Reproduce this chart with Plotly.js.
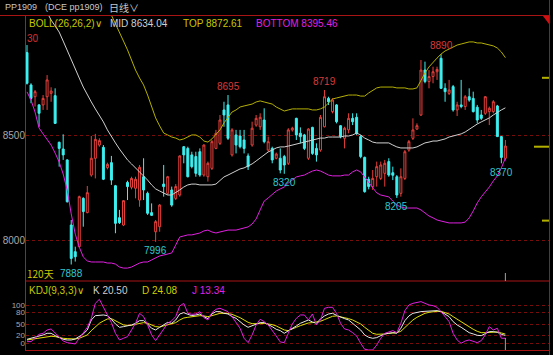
<!DOCTYPE html>
<html><head><meta charset="utf-8">
<script src="https://cdn.plot.ly/plotly-3.0.1.min.js"></script>
<style>html,body{margin:0;padding:0;background:#000;overflow:hidden}#chart{width:553px;height:355px}</style>
</head><body><div id="chart"></div>
<script>
// ---- data ----
const days = Array.from({length:120}, (_, i) => i);
const open = [8897,8743,8687,8648,8648,8687,8703,8692,8470,8438,
 8386,8076,7949,7973,8203,8135,8314,8394,8457,8446,
 8349,8373,8263,8111,8076,8279,8256,8251,8195,8306,
 8227,8135,8044,8068,8271,8227,8243,8203,8219,8449,
 8441,8410,8402,8425,8314,8306,8346,8441,8465,8624,
 8648,8410,8505,8500,8481,8405,8457,8552,8544,8576,
 8433,8441,8394,8394,8402,8370,8529,8584,8513,8505,
 8394,8541,8441,8433,8544,8679,8616,8648,8549,8489,
 8529,8584,8589,8497,8398,8294,8259,8306,8298,8322,
 8378,8325,8306,8227,8298,8433,8489,8533,8600,8814,
 8759,8783,8806,8870,8727,8703,8735,8624,8648,8640,
 8687,8679,8637,8600,8608,8616,8616,8643,8497,8394];
const high = [8933,8751,8719,8652,8695,8790,8732,8727,8473,8508,
 8389,8100,7973,8216,8208,8262,8500,8510,8489,8457,
 8373,8405,8267,8148,8195,8287,8306,8306,8362,8394,
 8235,8179,8100,8176,8362,8310,8259,8271,8408,8452,
 8449,8425,8425,8441,8460,8378,8481,8529,8600,8663,
 8695,8537,8529,8529,8529,8417,8568,8600,8608,8632,
 8497,8449,8421,8441,8410,8537,8544,8587,8541,8510,
 8537,8544,8465,8600,8719,8687,8679,8652,8552,8544,
 8608,8608,8608,8505,8402,8306,8338,8378,8378,8386,
 8394,8354,8314,8346,8433,8481,8584,8560,8862,8854,
 8814,8830,8830,8890,8751,8767,8743,8663,8767,8695,
 8727,8711,8648,8624,8690,8640,8671,8648,8500,8481];
const low = [8745,8656,8640,8544,8624,8624,8663,8557,8354,8386,
 8183,7888,7902,7970,8068,8132,8306,8298,8449,8290,
 8341,8267,8037,8081,8071,8195,8246,8203,8163,8195,
 8124,8119,7996,8044,8211,8219,8163,8195,8211,8370,
 8303,8346,8306,8306,8306,8283,8338,8437,8457,8544,
 8481,8402,8417,8441,8417,8338,8449,8544,8529,8465,
 8425,8370,8389,8322,8320,8362,8521,8481,8465,8433,
 8386,8410,8378,8425,8541,8648,8608,8560,8489,8441,
 8513,8552,8505,8394,8230,8246,8243,8259,8290,8259,
 8306,8290,8205,8211,8290,8425,8481,8529,8595,8751,
 8727,8751,8767,8724,8663,8695,8616,8595,8632,8624,
 8663,8612,8560,8576,8600,8552,8608,8497,8370,8383];
const close = [8751,8679,8711,8608,8679,8767,8714,8560,8441,8410,
 8187,7917,7925,8211,8140,8230,8394,8484,8478,8294,
 8365,8290,8084,8087,8192,8259,8298,8294,8351,8243,
 8132,8122,8092,8171,8259,8306,8171,8259,8405,8410,
 8306,8354,8322,8314,8457,8370,8473,8513,8576,8600,
 8489,8529,8457,8449,8441,8354,8537,8584,8589,8473,
 8473,8386,8414,8338,8362,8529,8537,8505,8497,8441,
 8533,8417,8410,8589,8687,8663,8671,8568,8497,8537,
 8584,8568,8513,8402,8235,8259,8298,8354,8362,8370,
 8314,8313,8219,8306,8425,8473,8529,8549,8814,8759,
 8783,8806,8817,8727,8711,8719,8624,8648,8640,8687,
 8671,8616,8576,8584,8687,8632,8663,8497,8398,8452];
const bollMid = [9290,9252,9210,9167,9124,9086,9052,9024,8995,8952,
 8910,8867,8824,8776,8733,8695,8662,8629,8600,8567,
 8529,8495,8467,8438,8410,8386,8367,8348,8333,8314,
 8290,8267,8248,8238,8229,8219,8219,8229,8243,8257,
 8267,8271,8271,8267,8267,8267,8267,8271,8286,8305,
 8314,8324,8333,8343,8348,8357,8367,8381,8395,8410,
 8424,8433,8443,8448,8448,8452,8457,8462,8467,8471,
 8476,8481,8486,8490,8490,8495,8495,8495,8495,8500,
 8500,8505,8514,8505,8490,8481,8471,8467,8467,8467,
 8467,8457,8448,8443,8443,8443,8443,8448,8457,8467,
 8471,8476,8476,8481,8486,8495,8500,8505,8510,8519,
 8533,8543,8557,8567,8576,8586,8600,8614,8624,8634];
const bollTop = [9600,9590,9580,9570,9560,9545,9530,9515,9500,9480,
 9460,9440,9410,9380,9350,9320,9280,9240,9200,9160,
 9119,9076,9038,8995,8952,8910,8857,8814,8776,8743,
 8695,8643,8586,8548,8514,8505,8495,8490,8481,8486,
 8495,8505,8505,8495,8476,8471,8486,8505,8529,8562,
 8590,8614,8624,8638,8643,8648,8652,8662,8667,8662,
 8657,8652,8638,8629,8619,8624,8629,8629,8629,8629,
 8629,8624,8624,8629,8638,8657,8676,8681,8686,8690,
 8695,8695,8695,8690,8690,8705,8719,8729,8733,8733,
 8733,8733,8729,8729,8729,8724,8724,8729,8767,8800,
 8829,8852,8871,8890,8905,8914,8924,8933,8938,8943,
 8948,8948,8943,8943,8938,8933,8929,8919,8900,8873];
const bollBottom = [8710,8671,8614,8538,8510,8486,8457,8419,8376,8319,
 8243,8129,8033,7971,7924,7905,7900,7900,7900,7900,
 7895,7895,7890,7876,7871,7871,7876,7886,7895,7900,
 7900,7910,7919,7929,7933,7938,7943,7981,8019,8024,
 8029,8029,8033,8038,8048,8052,8043,8038,8043,8048,
 8052,8052,8052,8057,8062,8067,8081,8105,8148,8190,
 8205,8224,8238,8248,8257,8276,8290,8305,8310,8314,
 8324,8333,8338,8333,8324,8314,8310,8310,8310,8314,
 8314,8329,8338,8329,8305,8276,8252,8229,8219,8214,
 8210,8190,8171,8162,8157,8157,8157,8157,8148,8133,
 8119,8110,8100,8095,8090,8086,8086,8086,8086,8090,
 8110,8143,8181,8210,8233,8257,8286,8310,8348,8395];
const kdjK = [10.4,13.1,17.4,19.1,21.8,26.1,26.1,20.0,14.8,10.4,
 8.7,8.7,11.3,17.4,24.4,34.8,60.9,72.2,74.0,74.0,
 72.2,62.7,50.5,41.8,43.5,45.3,47.9,52.2,59.2,59.2,
 50.5,39.2,34.8,41.8,47.9,54.8,52.2,60.9,76.6,80.1,
 75.7,72.2,74.0,76.6,69.6,64.4,76.6,82.7,82.7,78.3,
 76.6,69.6,65.3,56.6,47.9,41.8,45.3,50.5,54.0,54.0,
 49.6,43.5,36.6,33.1,26.1,32.2,37.4,45.3,52.2,56.6,
 60.9,55.7,52.2,63.5,71.4,76.6,78.3,73.1,67.9,64.4,
 60.9,52.2,45.3,34.8,21.8,15.7,13.1,14.8,20.0,24.4,
 26.1,27.8,26.1,39.2,59.2,71.4,78.3,80.9,82.7,83.5,
 84.4,85.3,85.3,82.7,76.6,69.6,56.6,47.9,41.8,34.8,
 27.8,24.4,20.9,20.0,26.1,30.5,30.5,28.7,23.5,20.5];
const kdjD = [8.7,10.4,12.2,13.9,15.7,17.4,18.3,17.4,14.8,13.1,
 12.2,11.3,11.3,13.1,16.5,21.8,33.1,43.5,52.2,58.3,
 63.5,64.4,59.2,52.2,47.9,47.0,47.0,49.6,52.2,54.0,
 52.2,47.9,43.5,42.6,45.3,48.7,51.3,54.0,60.9,66.1,
 67.9,69.6,70.5,72.2,71.4,69.6,72.2,75.7,78.3,78.3,
 78.3,75.7,72.2,67.0,60.9,54.8,51.3,50.5,51.3,52.2,
 51.3,48.7,45.3,39.2,34.8,33.1,36.6,41.8,46.1,50.5,
 53.1,54.0,54.8,57.4,61.8,67.0,70.5,71.4,69.6,67.0,
 64.4,60.9,56.6,50.5,41.8,33.1,26.1,23.5,23.5,24.4,
 26.1,27.0,27.8,31.3,41.8,52.2,60.9,67.9,74.0,78.3,
 80.9,82.7,83.5,83.5,80.9,76.6,69.6,62.7,55.7,48.7,
 41.8,36.6,31.3,27.8,27.8,28.7,29.6,29.6,27.0,24.08];
const kdjJ = [4.4,4.4,13.1,23.5,26.1,34.8,37.4,26.1,15.7,6.1,
 1.7,0,-1.7,13.1,27.8,41.8,65.3,104.4,114.9,95.7,
 74.0,54.0,26.1,8.7,13.1,17.4,34.8,52.2,78.3,69.6,
 47.9,21.8,7.0,21.8,39.2,52.2,59.2,69.6,97.5,104.4,
 78.3,75.7,76.6,82.7,67.0,60.9,80.1,88.8,91.4,87.0,
 82.7,69.6,54.0,39.2,13.1,1.7,21.8,47.9,62.7,56.6,
 47.9,34.8,19.1,3.5,1.7,26.1,50.5,65.3,74.0,74.0,
 60.9,76.6,47.9,60.9,91.4,94.0,94.0,78.3,52.2,37.4,
 34.8,27.8,19.1,0,-15.7,-17.4,-17.4,-4.4,13.1,26.1,
 30.5,33.1,27.8,52.2,85.3,100.1,104.4,107.0,108.8,104.4,
 100.1,98.3,94.0,82.7,69.6,56.6,26.1,8.7,0,6.1,
 8.7,4.4,1.7,7.0,21.8,43.5,34.8,39.2,13.1,13.34];
const priceTicks = [8000, 8500];
const kdjTicks = [0, 20, 50, 80, 100];
const highMarks = [50, 74, 103];
const lowMarks = [11, 32, 64, 92, 118];
const refPrices = [8777, 8449, 8097];
const headerTexts = ['PP1909', '(DCE pp1909)', '日线∨'];
const bollTexts = ['BOLL(26,26,2)∨', 'MID 8634.04', 'TOP 8872.61', 'BOTTOM 8395.46'];
const kdjTexts = ['KDJ(9,3,3)∨', 'K 20.50', 'D 24.08', 'J 13.34'];

// ---- layout helpers (pixel -> paper) ----
const L = 26, R = 549, T = 16, B = 351, SEP = 281;
const PX = p => (p - L) / (R - L);
const PY = p => (B - p) / (B - T);
const FONT = 'Liberation Sans, Arial, sans-serif';
const CJK = 'Noto Sans CJK SC, sans-serif';
const RED = '#e8403c', CYAN = '#3ef0f0', FRAME = '#a81414', GRID = '#7a0c0c';

const traces = [
  {type:'candlestick', x:days, open:open, high:high, low:low, close:close,
   xaxis:'x', yaxis:'y', whiskerwidth:0, hoverinfo:'skip',
   increasing:{line:{color:RED, width:1}, fillcolor:'#000000'},
   decreasing:{line:{color:CYAN, width:1}, fillcolor:CYAN}},
  {type:'scatter', mode:'lines', x:days, y:bollMid, line:{color:'#d0d0d0', width:1}, hoverinfo:'skip'},
  {type:'scatter', mode:'lines', x:days, y:bollTop, line:{color:'#b4b000', width:1}, hoverinfo:'skip'},
  {type:'scatter', mode:'lines', x:days, y:bollBottom, line:{color:'#e020e0', width:1}, hoverinfo:'skip'},
  {type:'scatter', mode:'lines', x:days, y:kdjD, yaxis:'y2', line:{color:'#e0e000', width:1}, hoverinfo:'skip'},
  {type:'scatter', mode:'lines', x:days, y:kdjK, yaxis:'y2', line:{color:'#e8e8e8', width:1}, hoverinfo:'skip'},
  {type:'scatter', mode:'lines', x:days, y:kdjJ, yaxis:'y2', line:{color:'#e020e0', width:1}, hoverinfo:'skip'}
];

const ann = [];
function txt(s, px, py, color, size, fam){
  ann.push({text:s, xref:'paper', yref:'paper', x:PX(px), y:PY(py), xanchor:'left', yanchor:'middle',
    showarrow:false, borderpad:0, font:{family:fam||FONT, size:size||10, color:color}});
}
txt(headerTexts[0], 4, 7, '#c8c8c8', 9);
txt(headerTexts[1], 44, 7, '#c8c8c8', 9);
txt(headerTexts[2], 108, 7, '#c8c8c8', 10, CJK);
txt(bollTexts[0], 28, 23, '#c8c800', 10);
txt(bollTexts[1], 109, 23, '#d0d0d0', 10);
txt(bollTexts[2], 182, 23, '#c8c800', 10);
txt(bollTexts[3], 255, 23, '#e020e0', 10);
txt('30', 26, 38, '#d83030', 10);
txt('120天', 26, 273, '#c8c800', 10, CJK);
txt(kdjTexts[0], 28, 290, '#c8c800', 10);
txt(kdjTexts[1], 92, 290, '#d0d0d0', 10);
txt(kdjTexts[2], 141, 290, '#d0d000', 10);
txt(kdjTexts[3], 191, 290, '#e020e0', 10);

highMarks.forEach(i => ann.push({text:String(high[i]), xref:'x', yref:'y', x:i, y:high[i], yshift:9,
  showarrow:false, xanchor:'center', yanchor:'middle', font:{family:FONT, size:10, color:'#d83a3a'}}));
lowMarks.forEach(i => ann.push({text:String(low[i]), xref:'x', yref:'y', x:i, y:low[i], yshift:-9,
  showarrow:false, xanchor:'center', yanchor:'middle', font:{family:FONT, size:10, color:'#30c8d0'}}));

const shapes = [
  {type:'line', xref:'paper', yref:'paper', x0:PX(0), x1:PX(549.5), y0:PY(15.5), y1:PY(15.5), line:{color:FRAME, width:1}},
  {type:'line', xref:'paper', yref:'paper', x0:PX(549.5), x1:PX(549.5), y0:PY(0), y1:PY(355), line:{color:FRAME, width:1}},
  {type:'line', xref:'paper', yref:'paper', x0:PX(25.5), x1:PX(25.5), y0:PY(16), y1:PY(351), line:{color:'#b81818', width:1}},
  {type:'line', xref:'paper', yref:'paper', x0:PX(25.5), x1:PX(549.5), y0:PY(281), y1:PY(281), line:{color:FRAME, width:1}},
  {type:'line', xref:'paper', yref:'paper', x0:PX(25.5), x1:PX(549.5), y0:PY(350.5), y1:PY(350.5), line:{color:FRAME, width:1}},
  {type:'path', xref:'paper', yref:'paper', path:'M '+PX(543)+','+PY(16)+' L '+PX(549)+','+PY(16)+' L '+PX(549)+','+PY(24)+' Z',
   fillcolor:'#d01010', line:{width:0}},
  {type:'line', xref:'x', yref:'paper', x0:119, x1:119, y0:PY(273), y1:PY(281), line:{color:'#a0a0a0', width:1}},
  {type:'line', xref:'x', yref:'paper', x0:119, x1:119, y0:PY(338), y1:PY(350), line:{color:'#a0a0a0', width:1}}
];
refPrices.forEach((p, k) => shapes.push({type:'line', xref:'paper', yref:'y', x0:PX(k===1?534:542), x1:PX(549), y0:p, y1:p,
  line:{color:'#b4b000', width:2}}));

const layout = {
  width:553, height:355, margin:{l:L, r:553-R, t:T, b:355-B, pad:0},
  paper_bgcolor:'#000000', plot_bgcolor:'#000000', showlegend:false,
  xaxis:{range:[-0.25, 129.85], visible:false, rangeslider:{visible:false}, fixedrange:true},
  yaxis:{domain:[PY(SEP), 1], range:[7809.5, 9071.4], tickvals:priceTicks, ticktext:priceTicks.map(String),
    showgrid:true, gridcolor:GRID, griddash:'dot', gridwidth:1, zeroline:false, showline:false, ticks:'',
    tickfont:{family:FONT, size:10, color:'#a8a8a8'}, fixedrange:true},
  yaxis2:{domain:[0, PY(SEP)], anchor:'x', range:[-20.1, 162.7], tickvals:kdjTicks, ticktext:kdjTicks.map(String),
    showgrid:true, gridcolor:GRID, griddash:'dot', gridwidth:1, zeroline:false, showline:false, ticks:'',
    tickfont:{family:FONT, size:8, color:'#a8a8a8'}, fixedrange:true},
  annotations:ann, shapes:shapes
};
Plotly.newPlot('chart', traces, layout, {staticPlot:true, displayModeBar:false});
</script>
</body></html>
